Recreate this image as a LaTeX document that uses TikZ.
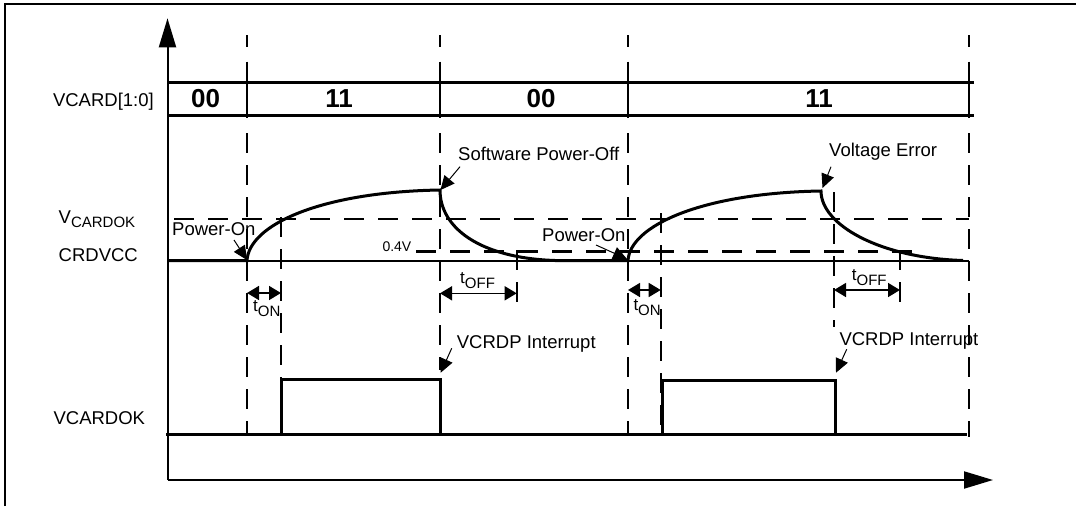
\documentclass[tikz,border=0pt]{standalone}
\usepackage{fontspec}
\setmainfont{Liberation Sans}
\usetikzlibrary{arrows.meta}
\newcommand{\tsb}[1]{t\raisebox{-5pt}{\fontsize{15}{15}\selectfont #1}}
\begin{document}
\begin{tikzpicture}[x=1pt,y=-1pt,
  lbl/.style={font=\fontsize{18.5}{20}\selectfont, inner sep=0pt},
  bits/.style={font=\fontsize{26}{28}\selectfont\bfseries, inner sep=0pt},
  small/.style={font=\fontsize{14}{16}\selectfont, inner sep=0pt},
  tlbl/.style={font=\fontsize{17}{18}\selectfont, inner sep=0pt},
  vdash/.style={line width=2.3pt, dash pattern=on 20pt off 12pt},
  hdash/.style={line width=2.3pt, dash pattern=on 20pt off 14pt},
  sig/.style={line width=3pt},
  note/.style={line width=1pt, -{Triangle[length=14pt,width=13pt]}},
  dimarrow/.style={line width=1.6pt, {Triangle[length=12pt,width=14pt]}-{Triangle[length=12pt,width=14pt]}},
  axisarrow/.style={line width=2pt, -{Triangle[length=29pt,width=17pt]}}
]
\useasboundingbox (0,0) rectangle (1076,506);
% frame
\draw[line width=2.5pt] (5,506) -- (5,4) -- (1076,4);
% axes
\coordinate (O) at (167.5,480);
\coordinate (ytip) at (167.5,18.3);
\coordinate (xtip) at (993,480);
\draw[axisarrow] (O) -- (ytip);
\draw[axisarrow] (O) -- (xtip);
% VCARD row
\draw[line width=3pt] (167.5,82.3) -- (974,82.3);
\draw[line width=3pt] (167.5,115) -- (974,115);
\foreach \x/\e in {247/434, 440/370, 628/434, 969/437}{
  \draw[line width=2.3pt] (\x,35) -- (\x,47);
  \draw[line width=2.5pt] (\x,61.7) -- (\x,118.3);
  \draw[vdash] (\x,133) -- (\x,\e);
}
\node[lbl, anchor=base east] (vcardlbl) at (154,106.5) {VCARD[1:0]};
\node[bits, anchor=base] (b1) at (205.7,107) {00};
\node[bits, anchor=base] (b2) at (339,107) {11};
\node[bits, anchor=base] (b3) at (541,107) {00};
\node[bits, anchor=base] (b4) at (819,107) {11};
% CRDVCC section
\node[lbl, anchor=base west] (vok) at (58.5,223) {V\raisebox{-4pt}{\fontsize{15}{15}\selectfont CARDOK}};
\node[lbl, anchor=base west] (crd) at (58.5,261.5) {CRDVCC};
\draw[hdash] (174,219) -- (969,219);
\draw[hdash] (416,251.5) -- (923,251.5);
\node[small, anchor=base east] (v04) at (411.5,251.5) {0.4V};
\draw[line width=2pt] (167.5,260.5) -- (969,260.5);
\draw[sig] (167.5,260.5) -- (247,260.5)
  .. controls (249,225) and (320,192) .. (440,190)
  .. controls (440,228) and (480,258) .. (555,260.5)
  -- (628,260.5)
  .. controls (630,226) and (701,193) .. (821,191)
  .. controls (821,225) and (880,258) .. (963,260.5);
% extra dashed verticals
\draw[vdash, line width=2.8pt] (281,217) -- (281,434);
\draw[vdash] (660.7,213) -- (660.7,434);
\draw[vdash] (516.7,250) -- (516.7,303);
\draw[vdash] (834,192) -- (834,327);
\draw[vdash] (900,250) -- (900,307);
% annotations
\node[lbl, anchor=base west] (pon1t) at (172,235) {Power-On};
\coordinate (pon1s) at (234,240);
\coordinate (pon1) at (247,260);
\draw[note] (pon1s) -- (pon1);
\node[lbl, anchor=base west] (pon2t) at (542,241) {Power-On};
\coordinate (pon2s) at (596,245);
\coordinate (pon2) at (627,259);
\draw[note] (pon2s) -- (pon2);
\node[lbl, anchor=base west] (swoff) at (458,160) {Software Power-Off};
\coordinate (swoffs) at (460,166.7);
\coordinate (swofftip) at (440.5,190);
\draw[note] (swoffs) -- (swofftip);
\node[lbl, anchor=base west] (verr) at (829,156.5) {Voltage Error};
\coordinate (verrs) at (831,166.7);
\coordinate (verrtip) at (822.5,188);
\draw[note] (verrs) -- (verrtip);
% timing dimensions
\coordinate (on1a) at (247,293); \coordinate (on1b) at (281,293);
\draw[dimarrow] (on1a) -- (on1b);
\node[tlbl, anchor=base west] (ton1) at (253,311.5) {\tsb{ON}};
\coordinate (on2a) at (628,290); \coordinate (on2b) at (660.7,290);
\draw[dimarrow] (on2a) -- (on2b);
\node[tlbl, anchor=base west] (ton2) at (633.3,310) {\tsb{ON}};
\coordinate (off1a) at (440,293.3); \coordinate (off1b) at (516.7,293.3);
\draw[dimarrow] (off1a) -- (off1b);
\node[tlbl, anchor=base west] (toff1) at (460,283) {\tsb{OFF}};
\coordinate (off2a) at (834,290); \coordinate (off2b) at (900,290);
\draw[dimarrow] (off2a) -- (off2b);
\node[tlbl, anchor=base west] (toff2) at (851.7,280) {\tsb{OFF}};
% VCARDOK signal
\node[lbl, anchor=base west] (vokl) at (53.4,424) {VCARDOK};
\draw[sig] (166,434.5) -- (967,434.5);
\draw[sig] (281,434.5) -- (281,379) -- (440,379) -- (440,434.5);
\draw[sig] (662.3,434.5) -- (662.3,380) -- (835,380) -- (835,434.5);
\node[lbl, anchor=base west] (int1) at (456.7,348) {VCRDP Interrupt};
\coordinate (int1s) at (451.7,348.3);
\coordinate (int1tip) at (440.7,372.7);
\draw[note] (int1s) -- (int1tip);
\node[lbl, anchor=base west] (int2) at (839.3,345) {VCRDP Interrupt};
\coordinate (int2s) at (846.7,349.3);
\coordinate (int2tip) at (836,372.7);
\draw[note] (int2s) -- (int2tip);
\end{tikzpicture}
\end{document}
